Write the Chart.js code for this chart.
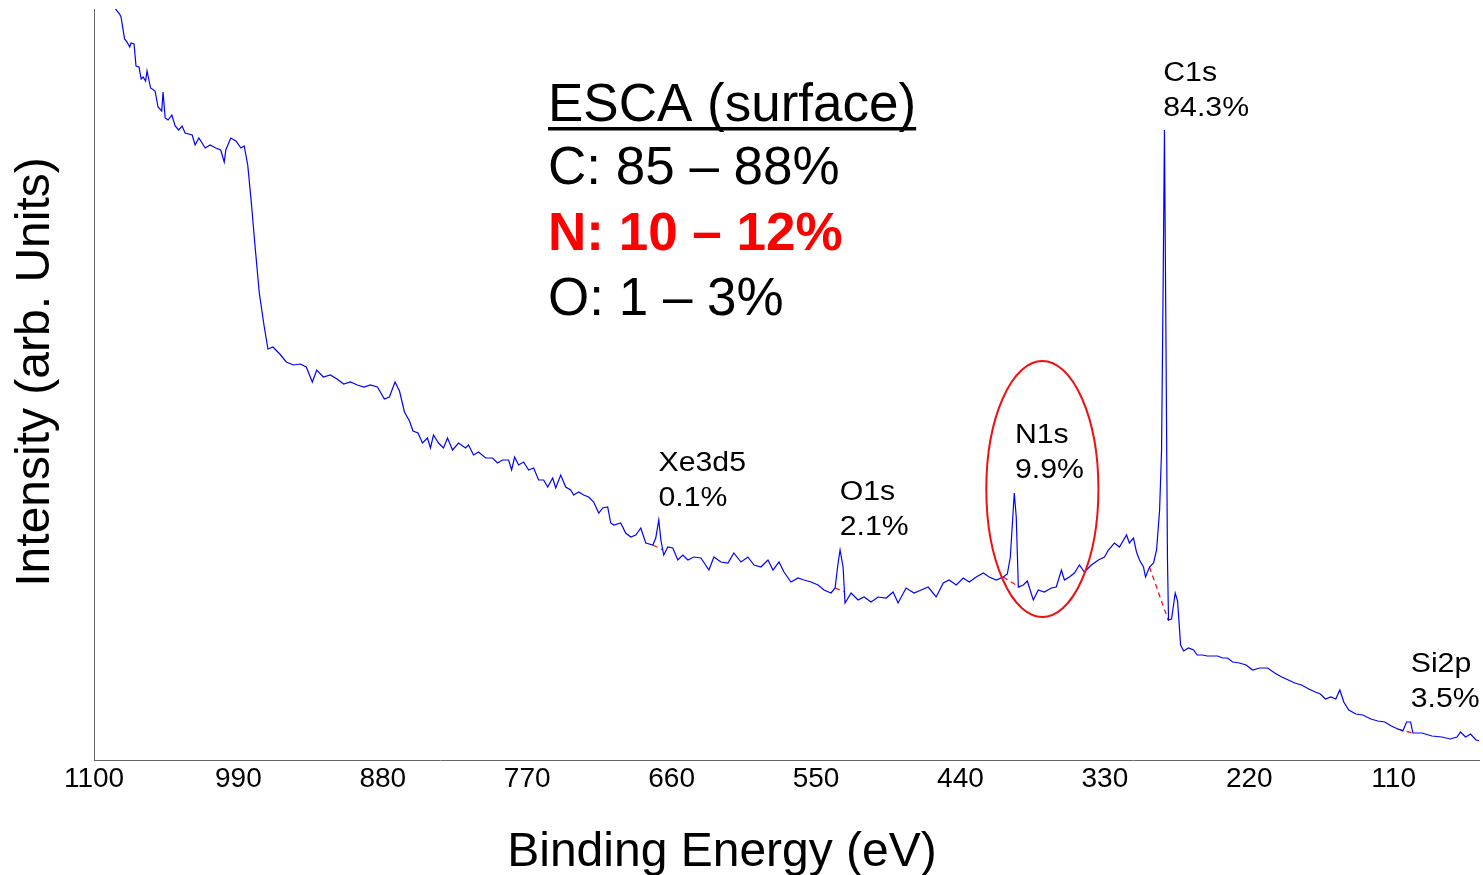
<!DOCTYPE html>
<html>
<head>
<meta charset="utf-8">
<title>ESCA survey</title>
<script src="https://cdn.jsdelivr.net/npm/chart.js@4.4.0/dist/chart.umd.min.js"></script>
<style>
  body { margin: 0; background: #fff; }
  #wrap { width: 1483px; height: 875px; }
</style>
</head>
<body>
<div id="wrap"><canvas id="esca" width="1483" height="875"></canvas></div>
<script>
// survey spectrum (binding energy in eV, intensity in arb. units)
const bindingEnergy = [
  1085.5,1083.6,1080.5,1079.4,1076.7,1074.8,1072.8,1071.8,1069.5,1068,1065.7,1064.1,1062.6,1060.7,1059.6,1056.9,1053.5,1051.2,1048.4,1047.4,
  1045.8,1043.6,1040.7,1038.2,1035.5,1032.9,1030.6,1025.2,1023,1020.1,1015.3,1011.5,1007.3,1003.5,1000.8,999.6,995.8,991.9,988.1,985.6,
  982.9,980.2,978,974.1,970.3,967.5,963.7,958.5,953.5,948.2,942.9,938.3,933.7,930.3,925.3,920,914.9,909.8,904.7,899.4,
  894.3,889.5,884.1,878.8,875,870.7,867.3,863.5,859.7,857,853.2,
  849.8,846,843.7,841.4,837.6,833.8,830.7,826.9,822.3,817,814.7,810.9,807.1,801.7,796.4,792.6,788.8,784.2,781.9,779.6,
  776.6,772.8,768.9,765.1,761.3,757.5,754.4,750.6,748.3,744.5,740.7,736.9,734.6,730.8,727,723.2,719.4,715.5,712.5,708.7,
  706.4,704.1,698.8,695,691.1,687.3,683.5,679.7,674.3,672.1,669.8,668.2,666,662.9,659.1,655.3,651.5,647.6,643.1,637.7,
  631.6,627.8,622.5,617.1,612.6,607.2,601.9,597.3,592,586.6,582.8,578.2,574.4,569.1,563.7,559.2,553.8,548.5,543.9,538.6,
  535.5,533.2,531.7,529.4,527.9,523.3,518,513.4,508.1,502.7,496.6,491.3,487.5,481.4,475.3,469.9,464.6,458.5,453.1,448.6,
  443.2,437.9,433.3,428,422.6,418.1,412.7,407.4,404.3,402,399,397.5,395.9,392.1,389.1,384.5,380.7,376.1,370.8,367,
  363.1,360.8,357,353.2,349.4,345.6,340.3,334.9,330.3,327.3,322.7,318.9,313.5,311.3,308.2,305.9,303.6,300.6,299,296,
  292.9,290.6,288.3,286.8,285.7,284.6,283.4,282.3,281.5,279.2,276.4,274.6,272.3,270,266.2,262.4,259.7,255.8,252,247.9,
  244.1,240.3,236.5,232.7,227.5,222.4,217.4,212.1,206,200.6,195.3,190.2,185.4,180.1,174.7,169.7,165.8,162,157.9,154.1,
  151,148,144.2,138.8,133.5,127.4,122.1,116.7,111.8,106.8,103,100.2,97.1,95.4,88.5,80.9,73.3,66.8,61.8,59.1,
  55.2,51.4,47.3,43.5
];
const intensity = [
  765,751,746,743,721,718,713,717,716,694,693,681,683,679,689,672,669,653,649,668,
  642,640,645,634,630,634,627,625,615,622,612,615,612,610,598,610,622,619,612,614,
  595,558,524,467,433,411,413,406,398,395,396,393,378,390,383,385,381,376,378,375,
  373,375,373,361,363,378,369,348,339,329,327,
  317,322,312,325,317,312,322,310,317,312,315,305,308,302,302,297,300,300,290,303,
  295,298,290,292,280,280,273,282,272,285,273,270,265,268,265,263,258,247,252,253,
  237,235,237,227,223,225,232,217,215,222,240,220,205,213,212,200,205,200,203,202,
  190,203,198,197,207,198,203,195,193,200,190,198,188,178,182,180,178,175,170,167,
  172,197,210,193,157,167,160,163,158,163,162,168,157,172,167,170,173,163,177,180,
  175,182,178,183,187,183,180,183,186,203,267,243,173,175,179,160,170,168,172,173,
  190,180,183,187,195,188,195,200,203,210,217,213,225,217,222,208,200,193,183,193,
  197,210,250,310,460,630,410,200,140,141,167,159,115,109,112,110,105,105,104,104,
  104,102,102,98,97,95,90,92,92,87,83,80,77,75,71,68,66,61,63,61,
  70,58,50,46,45,41,39,38,34,31,29,38,38,27,27,24,23,21,23,28,
  23,26,20,19
];
const energyTicks = [1100, 990, 880, 770, 660, 550, 440, 330, 220, 110];

// linear backgrounds under the quantified peaks (Xe3d5, O1s, N1s, C1s, Si2p)
const bgStartEnergy = [674.3, 535.5, 407.4, 296, 106.8];
const bgStartCounts = [215, 172, 183, 193, 31];
const bgEndEnergy = [666.7, 527.9, 395.2, 281.5, 95.4];
const bgEndCounts = [210, 168, 173, 139, 27];

// peak labels
const peakNames = ['Xe3d5', 'O1s', 'N1s', 'C1s', 'Si2p'];
const peakPercent = ['0.1%', '2.1%', '9.9%', '84.3%', '3.5%'];
const labelEnergy = [670, 532, 398.5, 285.5, 97];
const labelCounts = [289, 260, 317, 679, 88];

const surfaceTitle = 'ESCA (surface)';
const surfaceLines = ['C: 85 – 88%', 'N: 10 – 12%', 'O: 1 – 3%'];

const FONT = '"Liberation Sans", Arial, Helvetica, sans-serif';

const spectrum = {
    data: bindingEnergy.map((e, i) => ({ x: e, y: intensity[i] })),
    borderColor: '#0000ff',
    borderWidth: 1.2,
    pointRadius: 0,
    tension: 0
};

const backgrounds = bgStartEnergy.map((e, i) => ({
    data: [{ x: e, y: bgStartCounts[i] }, { x: bgEndEnergy[i], y: bgEndCounts[i] }],
    borderColor: '#ff0000',
    borderWidth: 1.2,
    borderDash: [5, 4],
    pointRadius: 0
}));

const overlay = {
    id: 'overlay',
    afterDatasetsDraw(chart) {
        const ctx = chart.ctx;
        const x = chart.scales.x, y = chart.scales.y;
        ctx.save();

        // ring round the N1s peak
        const cx = x.getPixelForValue(377.6), cy = y.getPixelForValue(271);
        const rx = Math.abs(x.getPixelForValue(377.6 - 42.7) - cx);
        const ry = Math.abs(y.getPixelForValue(271 + 128) - cy);
        ctx.beginPath();
        ctx.ellipse(cx, cy, rx, ry, 0, 0, Math.PI * 2);
        ctx.strokeStyle = '#ee1010';
        ctx.lineWidth = 2;
        ctx.stroke();

        // peak names and atomic % (slightly stretched, like the original labels)
        ctx.fillStyle = '#000';
        ctx.textAlign = 'left';
        ctx.textBaseline = 'alphabetic';
        ctx.font = '27px ' + FONT;
        peakNames.forEach((name, i) => {
            const px = x.getPixelForValue(labelEnergy[i]);
            const py = y.getPixelForValue(labelCounts[i]);
            ctx.save();
            ctx.translate(px, py);
            ctx.scale(1.12, 1);
            ctx.fillText(name, 0, 0);
            ctx.fillText(peakPercent[i], 0, 35);
            ctx.restore();
        });

        // composition box
        ctx.font = '53px ' + FONT;
        ctx.fillText(surfaceTitle, 548, 121);
        const w = ctx.measureText(surfaceTitle).width;
        ctx.fillRect(548, 127, w, 3.5);
        ctx.fillText(surfaceLines[0], 548, 184);
        ctx.fillStyle = '#ff0000';
        ctx.font = 'bold 53px ' + FONT;
        ctx.fillText(surfaceLines[1], 548, 250);
        ctx.fillStyle = '#000';
        ctx.font = '53px ' + FONT;
        ctx.fillText(surfaceLines[2], 548, 315);

        // axis titles
        ctx.font = '48px ' + FONT;
        ctx.textAlign = 'center';
        ctx.fillText('Binding Energy (eV)', 722, 866);
        ctx.translate(49, 372);
        ctx.rotate(-Math.PI / 2);
        ctx.fillText('Intensity (arb. Units)', 0, 0);

        ctx.restore();
    }
};

new Chart(document.getElementById('esca'), {
    type: 'line',
    data: { datasets: [spectrum].concat(backgrounds) },
    options: {
        responsive: false,
        animation: false,
        layout: { padding: { left: 94, right: 4, top: 9, bottom: 0 } },
        plugins: {
            legend: { display: false },
            tooltip: { enabled: false }
        },
        scales: {
            x: {
                type: 'linear',
                reverse: true,
                min: 45,
                max: 1100,
                afterBuildTicks: function (s) {
                    s.ticks = energyTicks.map(v => ({ value: v }));
                },
                afterFit: function (s) { s.height = 115; },
                grid: { display: false, drawTicks: false },
                border: { color: '#666', width: 1 },
                ticks: {
                    color: '#000',
                    font: { family: FONT, size: 28 },
                    padding: 2,
                    maxRotation: 0,
                    autoSkip: false,
                    callback: v => String(v)
                }
            },
            y: {
                min: 0,
                max: 751,
                afterFit: function (s) { s.width = 0; },
                ticks: { display: false },
                grid: { display: false },
                border: { color: '#666', width: 1 }
            }
        }
    },
    plugins: [overlay]
});
</script>
</body>
</html>
